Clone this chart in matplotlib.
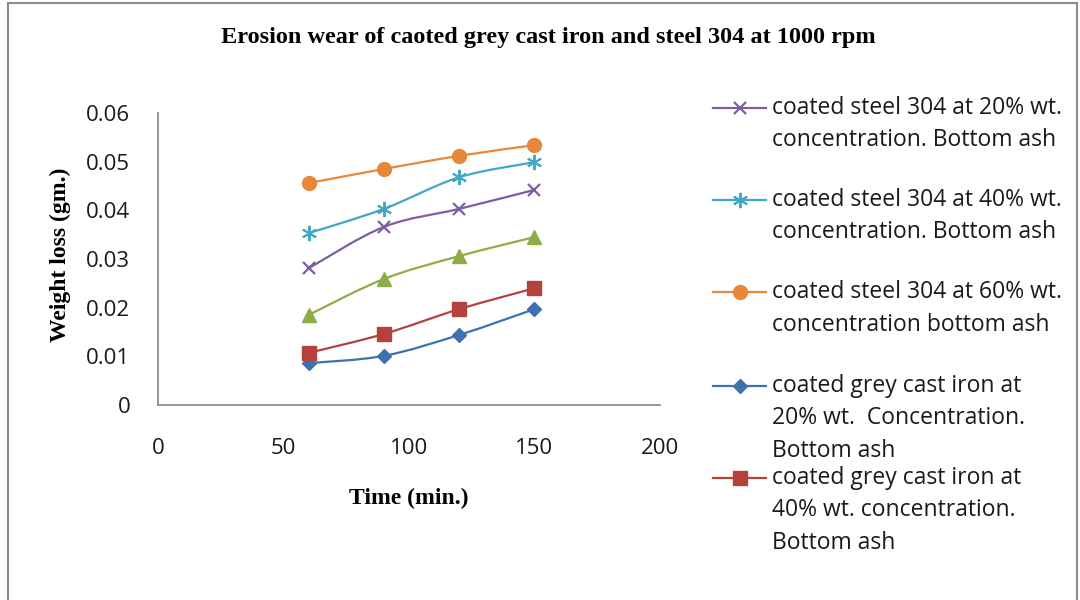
import matplotlib.pyplot as plt
from matplotlib.lines import Line2D
from matplotlib.patches import Rectangle, PathPatch
from matplotlib.path import Path

# data
time_min = [60, 90, 120, 150]
steel_20 = [0.0281, 0.0366, 0.0403, 0.0442]
steel_40 = [0.0353, 0.0403, 0.0468, 0.0499]
steel_60 = [0.0456, 0.0485, 0.0512, 0.0534]
iron_20 = [0.0086, 0.0101, 0.0144, 0.0197]
iron_40 = [0.0107, 0.0146, 0.0197, 0.0240]
iron_60 = [0.0185, 0.0259, 0.0306, 0.0345]

x_ticks = [0, 50, 100, 150, 200]
y_ticks = [0, 0.01, 0.02, 0.03, 0.04, 0.05, 0.06]
y_tick_labels = ["0", "0.01", "0.02", "0.03", "0.04", "0.05", "0.06"]

legend_labels = [
    ["coated steel 304 at 20% wt.", "concentration. Bottom ash"],
    ["coated steel 304 at 40% wt.", "concentration. Bottom ash"],
    ["coated steel 304 at 60% wt.", "concentration bottom ash"],
    ["coated grey cast iron at", "20% wt.  Concentration.", "Bottom ash"],
    ["coated grey cast iron at", "40% wt. concentration.", "Bottom ash"],
]


def smooth_path(xs, ys):
    # bezier curve through the points, like excel's "smoothed line"
    pts = list(zip(xs, ys))
    verts = [pts[0]]
    codes = [Path.MOVETO]
    for i in range(len(pts) - 1):
        p0 = pts[max(i - 1, 0)]
        p1 = pts[i]
        p2 = pts[i + 1]
        p3 = pts[min(i + 2, len(pts) - 1)]
        c1 = (p1[0] + (p2[0] - p0[0]) / 6, p1[1] + (p2[1] - p0[1]) / 6)
        c2 = (p2[0] - (p3[0] - p1[0]) / 6, p2[1] - (p3[1] - p1[1]) / 6)
        verts += [c1, c2, p2]
        codes += [Path.CURVE4] * 3
    return Path(verts, codes)


W, H = 1080, 600
fig = plt.figure(figsize=(W / 100, H / 100), dpi=100)

# outer chart frame
fig.patches.append(Rectangle((8 / W, -0.01), (1077 - 8) / W, (H - 3) / H + 0.01,
                             transform=fig.transFigure, fill=False,
                             edgecolor="#8c8c8c", linewidth=1.5))

ax = fig.add_axes([158 / W, (H - 405) / H, (660 - 158) / W, (405 - 113) / H])

styles = [
    (steel_20, "#7E5DA0", "x", 9, 1.6),
    (steel_40, "#40A8C4", (6, 2, 0), 11, 1.4),
    (steel_60, "#E6873A", "o", 10, 1.0),
    (iron_20, "#3E70B2", "D", 7.5, 1.0),
    (iron_40, "#B4413C", "s", 9.5, 1.0),
    (iron_60, "#8DAE47", "^", 10, 1.0),
]

for vals, col, mk, ms, mew in styles:
    ax.add_patch(PathPatch(smooth_path(time_min, vals), fill=False, edgecolor=col,
                           linewidth=1.6, zorder=2))
    ax.plot(time_min, vals, linestyle="none", marker=mk,
            markersize=ms, markeredgewidth=mew, markeredgecolor=col,
            markerfacecolor=col, clip_on=False, zorder=3)

ax.set_xlim(0, 200)
ax.set_ylim(0, 0.06)
ax.set_xticks(x_ticks)
ax.set_yticks(y_ticks)
ax.set_yticklabels(y_tick_labels)
ax.tick_params(length=0, labelsize=16, labelcolor="#1a1a1a")
ax.tick_params(axis="y", pad=20)
ax.tick_params(axis="x", pad=24)
for lab in ax.get_xticklabels() + ax.get_yticklabels():
    lab.set_fontfamily("Open Sans")
for s in ["top", "right"]:
    ax.spines[s].set_visible(False)
for s in ["left", "bottom"]:
    ax.spines[s].set_color("#8c8c8c")
    ax.spines[s].set_linewidth(1.3)

serif = "Liberation Serif"
fig.text(548 / W, 1 - 37 / H, "Erosion wear of caoted grey cast iron and steel 304 at 1000 rpm",
         ha="center", va="center", fontsize=17.5, fontweight="bold", family=serif)
fig.text(409 / W, 1 - 498 / H, "Time (min.)", ha="center", va="center",
         fontsize=17, fontweight="bold", family=serif)
fig.text(60 / W, 1 - 255 / H, "Weight loss (gm.)", ha="center", va="center",
         rotation=90, fontsize=17, fontweight="bold", family=serif)

# legend drawn by hand to copy the overlapping spacing of the original
entry_y = [108, 200, 292, 386, 478]
line_gap = 32.5
for (vals, col, mk, ms, mew), lines, y0 in zip(styles[:5], legend_labels, entry_y):
    yf = 1 - y0 / H
    fig.add_artist(Line2D([713 / W, 766 / W], [yf, yf], transform=fig.transFigure,
                          color=col, linewidth=1.6))
    fig.add_artist(Line2D([740 / W], [yf], transform=fig.transFigure, color=col,
                          marker=mk, markersize=ms, markeredgewidth=mew,
                          markeredgecolor=col, markerfacecolor=col))
    for i, txt in enumerate(lines):
        fig.text(772 / W, 1 - (y0 + i * line_gap) / H, txt, ha="left", va="center",
                 fontsize=16.5, family="Open Sans", color="#1a1a1a")

fig.savefig("out.png", dpi=100)
